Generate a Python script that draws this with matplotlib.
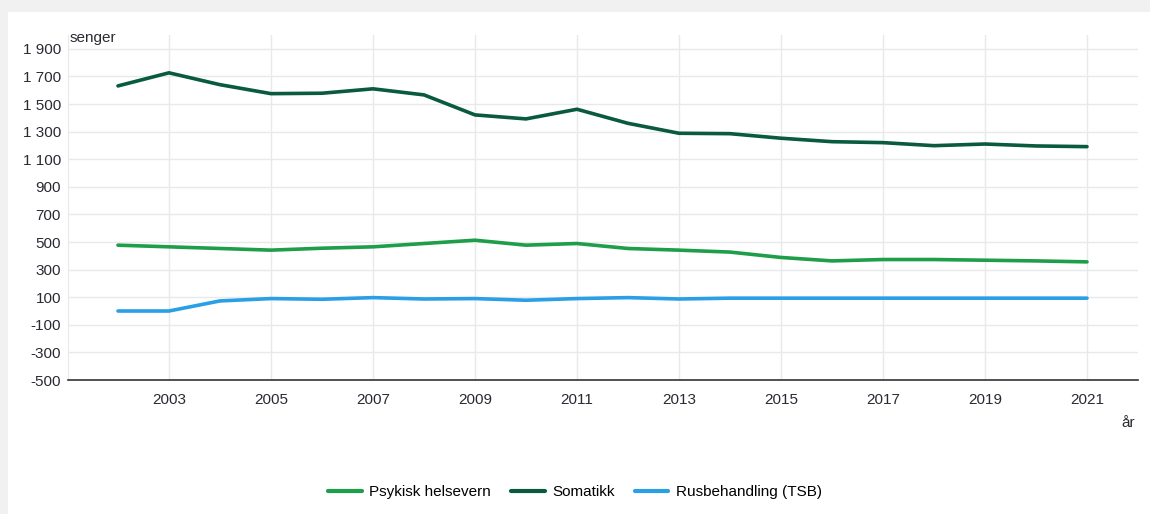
import matplotlib
matplotlib.use('Agg')
from matplotlib import pyplot as plt
from matplotlib.patches import Rectangle
from matplotlib.ticker import FuncFormatter

plt.rcParams['font.family'] = ['Liberation Sans', 'DejaVu Sans']

years = list(range(2002, 2022))
psykisk = [477, 465, 453, 441, 455, 465, 489, 513, 477, 489,
           453, 441, 427, 388, 363, 373, 373, 368, 363, 356]
somatikk = [1631, 1726, 1640, 1575, 1578, 1610, 1566, 1421, 1392, 1462,
            1360, 1288, 1285, 1252, 1227, 1220, 1198, 1210, 1196, 1191]
tsb = [0, 0, 73, 90, 85, 97, 87, 90, 78, 90,
       97, 87, 93, 93, 93, 93, 93, 93, 93, 93]

series_names = ['Psykisk helsevern', 'Somatikk', 'Rusbehandling (TSB)']
colors = ['#1f9e4a', '#0a5a3e', '#2a9fe6']

y_ticks = list(range(-500, 2000, 200))
x_ticks = list(range(2003, 2022, 2))

fig = plt.figure(figsize=(11.5, 5.14), dpi=100)
fig.patch.set_facecolor('#f1f1f1')
# hvit "kort"-bakgrunn bak alt annet
fig.patches.append(Rectangle((8 / 1150, 0), 1, 1 - 12 / 514,
                             transform=fig.transFigure, facecolor='white',
                             edgecolor='none', zorder=-10))

ax = fig.add_axes([68 / 1150, 1 - 380 / 514, (1138 - 68) / 1150, (380 - 35) / 514])
ax.set_facecolor('white')

for vals, name, col in zip([psykisk, somatikk, tsb], series_names, colors):
    ax.plot(years, vals, color=col, lw=2.6, label=name, solid_capstyle='round', zorder=3)

ax.set_xlim(2001.02, 2022)
ax.set_ylim(-500, 2000)
ax.set_yticks(y_ticks)
ax.set_xticks(x_ticks)
ax.yaxis.set_major_formatter(FuncFormatter(lambda v, p: f'{int(v):,}'.replace(',', ' ')))
ax.grid(True, color='#e6eaea', lw=1)
ax.set_axisbelow(True)
ax.tick_params(length=0, labelsize=11, colors='#2a2a33')
ax.tick_params(axis='x', pad=9)
ax.tick_params(axis='y', pad=5)

for s in ['top', 'right']:
    ax.spines[s].set_visible(False)
ax.spines['left'].set_color('#e6eaea')
ax.spines['bottom'].set_color('#333333')
ax.spines['bottom'].set_linewidth(1.2)

fig.text(70 / 1150, 1 - 38 / 514, 'senger', fontsize=11, color='#2a2a33', va='center', ha='left')
fig.text(1128 / 1150, 1 - 423 / 514, 'år', fontsize=11, color='#2a2a33', va='center', ha='center')

leg = fig.legend(loc='center', bbox_to_anchor=(0.5, 1 - 492 / 514), ncol=3, frameon=False,
                 fontsize=11, handlelength=2.2, columnspacing=1.3, handletextpad=0.5)
for h in leg.get_lines():
    h.set_linewidth(3)

fig.savefig('out.png', dpi=100, facecolor=fig.get_facecolor())
